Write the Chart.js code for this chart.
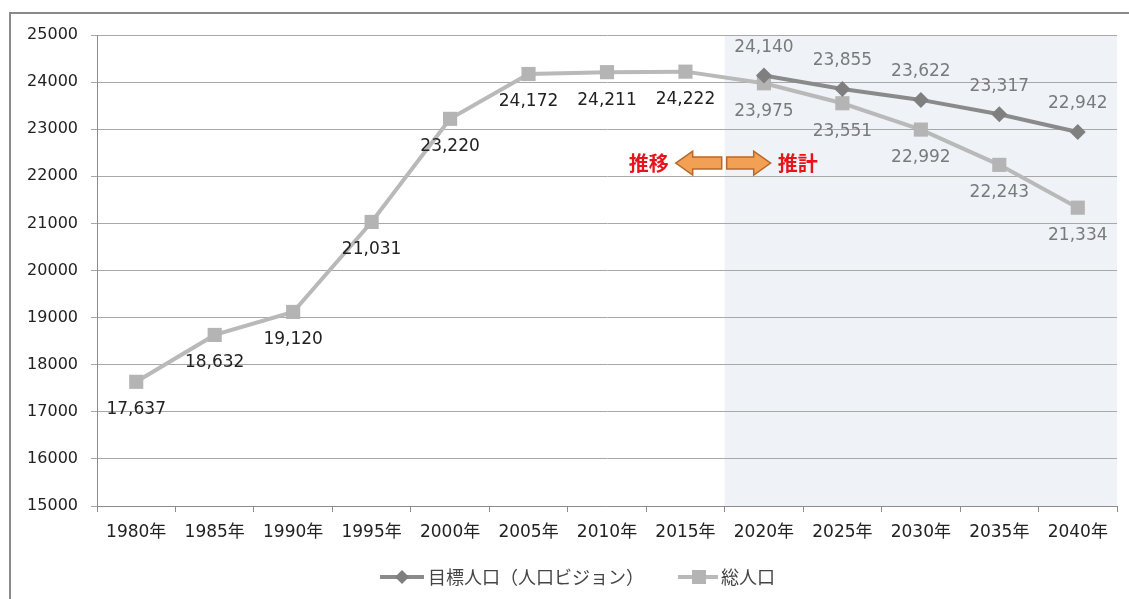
<!DOCTYPE html>
<html lang="ja">
<head>
<meta charset="utf-8">
<script src="https://cdn.jsdelivr.net/npm/chart.js@4"></script>
<style>
  html, body { margin: 0; padding: 0; background: #fff; }
  #frame {
    position: absolute; left: 9px; top: 12px; width: 1200px; height: 700px;
    border-left: 2px solid #8a8a8a; border-top: 2px solid #8a8a8a;
  }
  #chart { position: absolute; left: 0; top: 0; }
</style>
</head>
<body>
<div id="frame"></div>
<canvas id="chart" width="1129" height="599"></canvas>
<script>
// ── Data ───────────────────────────────────────────
const years = ['1980年', '1985年', '1990年', '1995年', '2000年', '2005年', '2010年',
               '2015年', '2020年', '2025年', '2030年', '2035年', '2040年'];
const totalPop  = [17637, 18632, 19120, 21031, 23220, 24172, 24211, 24222,
                   23975, 23551, 22992, 22243, 21334];
const targetPop = [null, null, null, null, null, null, null, null,
                   24140, 23855, 23622, 23317, 22942];
const yTicks = [15000, 16000, 17000, 18000, 19000, 20000, 21000, 22000, 23000, 24000, 25000];
const firstEstimate = 8;   // 2020年 onward is 推計

const FONT = '"DejaVu Sans", "Noto Sans CJK JP", sans-serif';
const JP   = '"Noto Sans CJK JP", sans-serif';

// ── Plugins ────────────────────────────────────────
const shadePlugin = {
  id: 'shade',
  beforeDraw(chart) {
    const { ctx, chartArea, scales: { x } } = chart;
    const left = (x.getPixelForValue(firstEstimate - 1) + x.getPixelForValue(firstEstimate)) / 2;
    ctx.save();
    ctx.fillStyle = '#eff3f8';
    ctx.fillRect(left, chartArea.top, chartArea.right - left, chartArea.bottom - chartArea.top);
    ctx.restore();
  }
};

const labelPlugin = {
  id: 'valueLabels',
  afterDatasetsDraw(chart) {
    const { ctx } = chart;
    ctx.save();
    ctx.font = '17px ' + FONT;
    ctx.textAlign = 'center';
    ctx.textBaseline = 'middle';
    chart.data.datasets.forEach((ds, di) => {
      const meta = chart.getDatasetMeta(di);
      meta.data.forEach((pt, i) => {
        const v = ds.data[i];
        if (v == null) return;
        const dy = ds.labelPos === 'above' ? -28 : 28;
        ctx.fillStyle = i >= firstEstimate ? '#7a7a7a' : '#222';
        ctx.fillText(v.toLocaleString('en-US'), pt.x, pt.y + dy);
      });
    });
    ctx.restore();
  }
};

const arrowPlugin = {
  id: 'arrows',
  afterDatasetsDraw(chart) {
    const { ctx, scales: { x, y } } = chart;
    const cx = (x.getPixelForValue(firstEstimate - 1) + x.getPixelForValue(firstEstimate)) / 2;
    const cy = y.getPixelForValue(22280);
    const arrow = (tip, tail) => {
      const dir = Math.sign(tail - tip);
      const head = 17 * dir;
      ctx.beginPath();
      ctx.moveTo(tip, cy);
      ctx.lineTo(tip + head, cy - 12);
      ctx.lineTo(tip + head, cy - 6);
      ctx.lineTo(tail, cy - 6);
      ctx.lineTo(tail, cy + 6);
      ctx.lineTo(tip + head, cy + 6);
      ctx.lineTo(tip + head, cy + 12);
      ctx.closePath();
      ctx.fillStyle = '#f2a054';
      ctx.fill();
      ctx.strokeStyle = '#b8682a';
      ctx.lineWidth = 1.5;
      ctx.stroke();
    };
    ctx.save();
    arrow(cx - 49, cx - 3);
    arrow(cx + 46, cx + 2);
    ctx.font = 'bold 20px ' + JP;
    ctx.fillStyle = '#e8141c';
    ctx.textBaseline = 'middle';
    ctx.textAlign = 'right';
    ctx.fillText('推移', cx - 56, cy);
    ctx.textAlign = 'left';
    ctx.fillText('推計', cx + 53, cy);
    ctx.restore();
  }
};

const legendPlugin = {
  id: 'bottomLegend',
  afterDraw(chart) {
    const { ctx } = chart;
    const ly = 577;
    ctx.save();
    ctx.lineWidth = 4;
    // 目標人口
    ctx.strokeStyle = '#8a8a8a';
    ctx.beginPath(); ctx.moveTo(380, ly); ctx.lineTo(424, ly); ctx.stroke();
    ctx.fillStyle = '#7f7f7f';
    ctx.beginPath();
    ctx.moveTo(402, ly - 7); ctx.lineTo(409, ly); ctx.lineTo(402, ly + 7); ctx.lineTo(395, ly);
    ctx.closePath(); ctx.fill();
    // 総人口
    ctx.strokeStyle = '#b9b9b9';
    ctx.beginPath(); ctx.moveTo(678, ly); ctx.lineTo(718, ly); ctx.stroke();
    ctx.fillStyle = '#b4b4b4';
    ctx.fillRect(692, ly - 7, 14, 14);
    ctx.font = '18px ' + JP;
    ctx.fillStyle = '#444';
    ctx.textBaseline = 'middle';
    ctx.textAlign = 'left';
    ctx.fillText('目標人口（人口ビジョン）', 428, ly);
    ctx.fillText('総人口', 721, ly);
    ctx.restore();
  }
};

// ── Chart ──────────────────────────────────────────
new Chart(document.getElementById('chart'), {
  type: 'line',
  data: {
    labels: years,
    datasets: [
      {
        label: '目標人口（人口ビジョン）',
        data: targetPop,
        labelPos: 'above',
        borderColor: '#8a8a8a',
        backgroundColor: '#7f7f7f',
        borderWidth: 4,
        pointStyle: 'rectRot',
        pointRadius: 8,
        pointBorderWidth: 0,
        pointBackgroundColor: '#7f7f7f',
        tension: 0
      },
      {
        label: '総人口',
        data: totalPop,
        labelPos: 'below',
        borderColor: '#b9b9b9',
        backgroundColor: '#b4b4b4',
        borderWidth: 4,
        pointStyle: 'rect',
        pointRadius: 10,
        pointBorderWidth: 0,
        pointBackgroundColor: '#b4b4b4',
        tension: 0
      }
    ]
  },
  options: {
    responsive: false,
    animation: false,
    events: [],
    layout: { padding: { top: 35, right: 12, left: 0, bottom: 0 } },
    plugins: { legend: { display: false }, tooltip: { enabled: false } },
    scales: {
      x: {
        offset: true,
        afterFit: s => { s.height = 93; },
        grid: { offset: true, drawOnChartArea: false, drawTicks: true, tickLength: 6, color: '#8c8c8c' },
        border: { color: '#8c8c8c', width: 1 },
        ticks: { color: '#222', font: { family: FONT, size: 17 }, padding: 10, maxRotation: 0, autoSkip: false }
      },
      y: {
        min: 15000,
        max: 25000,
        afterFit: s => { s.width = 97; },
        afterBuildTicks: s => { s.ticks = yTicks.map(v => ({ value: v })); },
        grid: { color: '#a8a8a8', tickLength: 6, lineWidth: 1 },
        border: { color: '#8c8c8c', width: 1 },
        ticks: { color: '#222', font: { family: FONT, size: 16 }, padding: 13, callback: v => String(v) }
      }
    }
  },
  plugins: [shadePlugin, labelPlugin, arrowPlugin, legendPlugin]
});
</script>
</body>
</html>
